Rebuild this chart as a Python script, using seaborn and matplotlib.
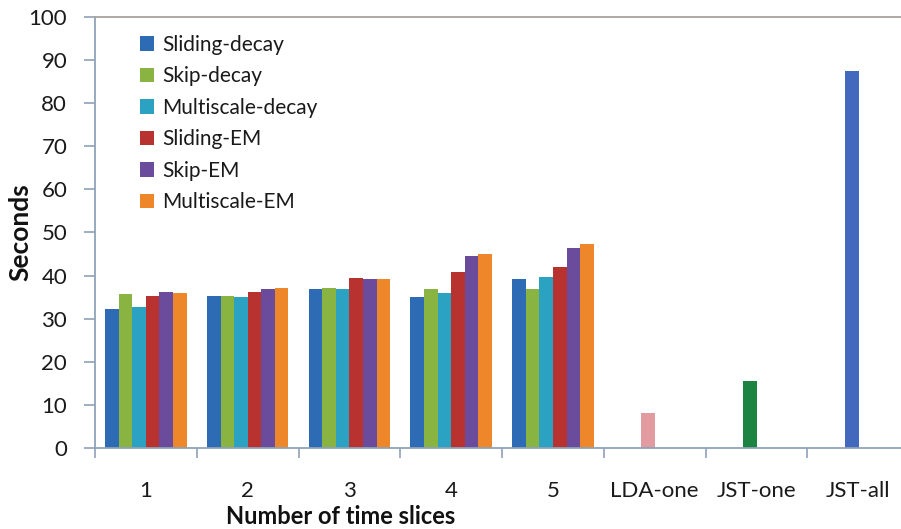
import numpy as np
import pandas as pd
import matplotlib
matplotlib.use("Agg")
import matplotlib.pyplot as plt
import seaborn as sns

# Running time (seconds) per method for 1..5 time slices
slices = ["1", "2", "3", "4", "5"]
methods = ["Sliding-decay", "Skip-decay", "Multiscale-decay",
           "Sliding-EM", "Skip-EM", "Multiscale-EM"]
sliding_decay = [32.3, 35.3, 36.9, 35.0, 39.3]
skip_decay = [35.7, 35.3, 37.2, 36.9, 37.0]
multiscale_decay = [32.8, 35.1, 36.9, 36.0, 39.7]
sliding_em = [35.3, 36.1, 39.4, 40.8, 42.1]
skip_em = [36.3, 37.0, 39.1, 44.6, 46.5]
multiscale_em = [35.9, 37.2, 39.1, 45.1, 47.3]

# Baselines
baselines = ["LDA-one", "JST-one", "JST-all"]
baseline_secs = [8.1, 15.5, 87.5]

categories = slices + baselines
yticks = [0, 10, 20, 30, 40, 50, 60, 70, 80, 90, 100]

method_colors = ["#2E6BB5", "#8AB441", "#2CA2C3", "#B83230", "#6B4C9C", "#EE8729"]
baseline_colors = ["#E29BA0", "#1C8443", "#4369BF"]

series = [sliding_decay, skip_decay, multiscale_decay, sliding_em, skip_em, multiscale_em]
df = pd.DataFrame({
    "slice": np.repeat([slices], len(methods), axis=0).ravel(),
    "method": np.repeat(methods, len(slices)),
    "seconds": np.concatenate(series),
})
df_base = pd.DataFrame({"slice": baselines, "seconds": baseline_secs})

sns.set_theme(style="white")
plt.rcParams["font.family"] = ["Lato", "DejaVu Sans"]

fig = plt.figure(figsize=(9.01, 5.29), dpi=100)
ax = fig.add_axes([95 / 901, 1 - 448 / 529, 806 / 901, 431 / 529])

sns.barplot(data=df, x="slice", y="seconds", hue="method", order=categories,
            hue_order=methods, palette=method_colors, width=0.8,
            saturation=1, errorbar=None, ax=ax, linewidth=0)
n_group = len(ax.patches)
sns.barplot(data=df_base, x="slice", y="seconds", hue="slice", order=categories,
            hue_order=baselines, palette=baseline_colors, width=0.137,
            saturation=1, errorbar=None, ax=ax, legend=False, linewidth=0)
# baseline bars sit a little left of their category centre
for p in ax.patches[n_group:]:
    p.set_x(p.get_x() - 0.062)

ax.set_ylim(0, 100)
ax.set_xlim(-0.5, 7.42)
ax.set_yticks(yticks)
ax.set_yticklabels([str(v) for v in yticks])

spine_col = "#8FA2B8"
ax.spines["right"].set_visible(False)
ax.spines["left"].set_color(spine_col)
ax.spines["bottom"].set_color(spine_col)
ax.spines["top"].set_color("#A9A39C")
for s in ["left", "bottom", "top"]:
    ax.spines[s].set_linewidth(1.3)

ax.tick_params(axis="y", which="major", left=True, length=8, width=1.2,
               color=spine_col, pad=12, labelsize=16, labelcolor="#1a1a1a")
ax.tick_params(axis="x", which="major", bottom=False, length=0, pad=24,
               labelsize=16, labelcolor="#1a1a1a")
ax.set_xticks(np.arange(-0.5, 7.5, 1.0), minor=True)
ax.tick_params(axis="x", which="minor", bottom=True, length=7, width=1.2,
               color=spine_col)

ax.set_xlabel("Number of time slices", fontsize=17, fontweight="bold",
              color="#111111")
ax.xaxis.set_label_coords(0.305, -0.133)
ax.set_ylabel("Seconds", fontsize=19, fontweight="bold", color="#111111")
ax.yaxis.set_label_coords(-0.078, 0.5)

leg = ax.legend(loc="upper left", bbox_to_anchor=(0.045, 0.978), frameon=False,
                fontsize=15, handlelength=0.7, handleheight=0.7,
                handletextpad=0.4, labelspacing=0.55, borderaxespad=0)
for t in leg.get_texts():
    t.set_color("#1a1a1a")

fig.savefig("out.png", dpi=100)
